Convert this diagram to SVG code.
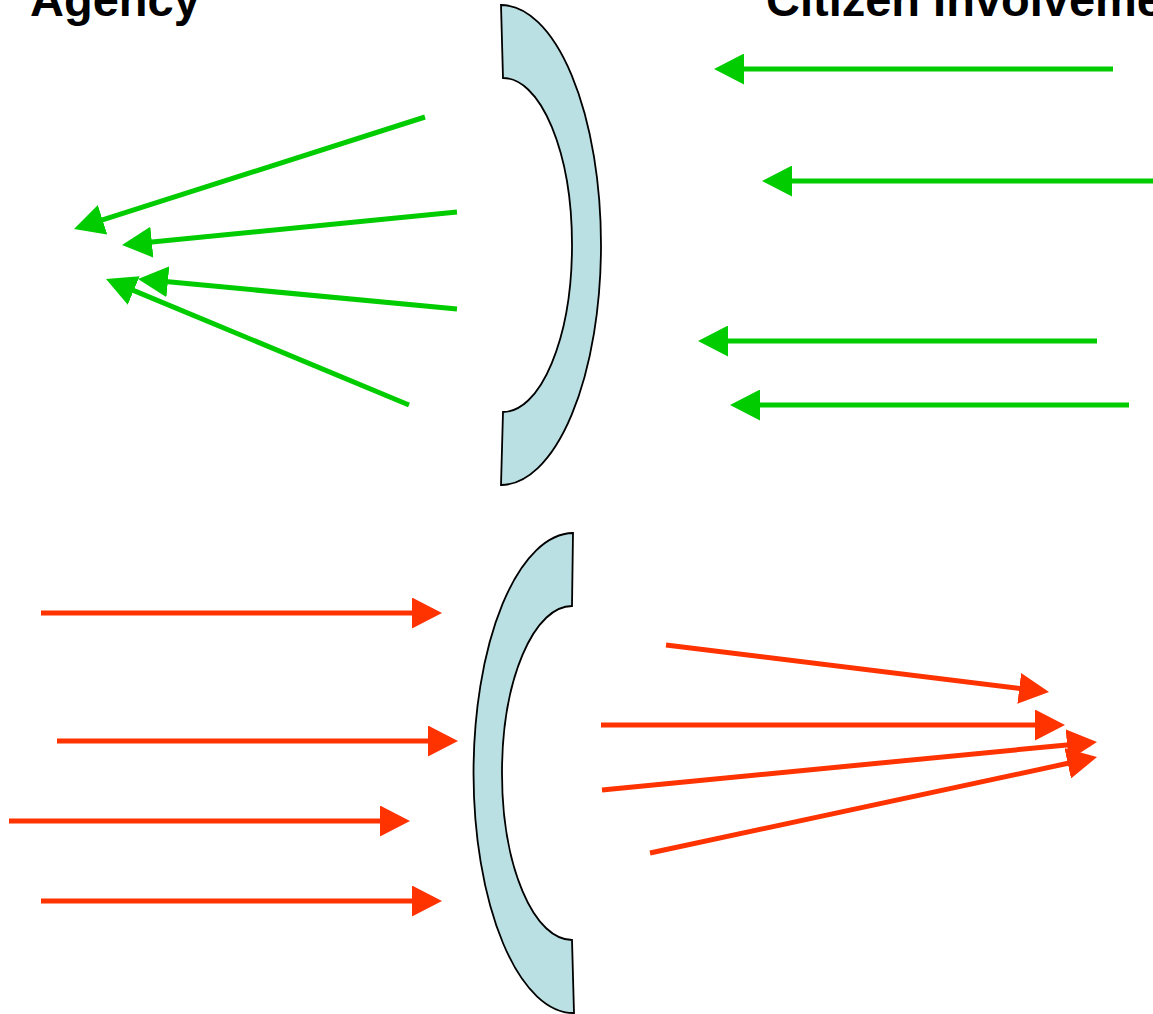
<svg xmlns="http://www.w3.org/2000/svg" width="1153" height="1014" viewBox="0 0 1153 1014">
<style>
.title{font-family:"Liberation Sans",Arial,sans-serif;font-weight:bold;font-size:47px;fill:#000}
.lens{fill:#bbe0e3;stroke:#000;stroke-width:1.8}
.g{stroke:#00cc00;stroke-width:5;fill:none}
.r{stroke:#ff3300;stroke-width:5;fill:none}
</style>
<defs>
<marker id="ag" markerUnits="userSpaceOnUse" markerWidth="30" markerHeight="31" refX="5" refY="15.5" orient="auto" viewBox="0 0 30 31"><path d="M0,0 L30,15.5 L0,31 Z" fill="#00cc00"/></marker>
<marker id="ar" markerUnits="userSpaceOnUse" markerWidth="30" markerHeight="31" refX="5" refY="15.5" orient="auto" viewBox="0 0 30 31"><path d="M0,0 L30,15.5 L0,31 Z" fill="#ff3300"/></marker>
</defs>
<text class="title" x="30" y="16">Agency</text>
<text class="title" x="766" y="16">Citizen Involvement</text>
<g id="lens-top"><path class="lens" d="M501,5 A100,240 0 0 1 501,485 L503,412 A69,167 0 0 0 503,78 Z"/></g>
<g id="lens-bottom"><path class="lens" d="M573,533 A100,240 0 0 0 574,1013 L572,940 A70,167 0 0 1 572,606 Z"/></g>
<g id="connectors">
<line class="g" x1="1113" y1="69" x2="739" y2="69" marker-end="url(#ag)"/>
<line class="g" x1="1153" y1="181" x2="787" y2="181" marker-end="url(#ag)"/>
<line class="g" x1="1097" y1="341" x2="723" y2="341" marker-end="url(#ag)"/>
<line class="g" x1="1129" y1="405" x2="755" y2="405" marker-end="url(#ag)"/>
<line class="g" x1="425" y1="117" x2="97.8" y2="221.4" marker-end="url(#ag)"/>
<line class="g" x1="457" y1="212" x2="146.9" y2="242.6" marker-end="url(#ag)"/>
<line class="g" x1="457" y1="309" x2="162.9" y2="281.3" marker-end="url(#ag)"/>
<line class="g" x1="409" y1="405" x2="129.1" y2="288.6" marker-end="url(#ag)"/>
<line class="r" x1="41" y1="613" x2="417" y2="613" marker-end="url(#ar)"/>
<line class="r" x1="57" y1="741" x2="433" y2="741" marker-end="url(#ar)"/>
<line class="r" x1="9" y1="821" x2="385" y2="821" marker-end="url(#ar)"/>
<line class="r" x1="41" y1="901" x2="417" y2="901" marker-end="url(#ar)"/>
<line class="r" x1="666" y1="645" x2="1024.2" y2="689" marker-end="url(#ar)"/>
<line class="r" x1="601" y1="725" x2="1040" y2="725" marker-end="url(#ar)"/>
<line class="r" x1="602" y1="790" x2="1072.1" y2="744.4" marker-end="url(#ar)"/>
<line class="r" x1="650" y1="853" x2="1072.6" y2="762.3" marker-end="url(#ar)"/>
</g>
</svg>
